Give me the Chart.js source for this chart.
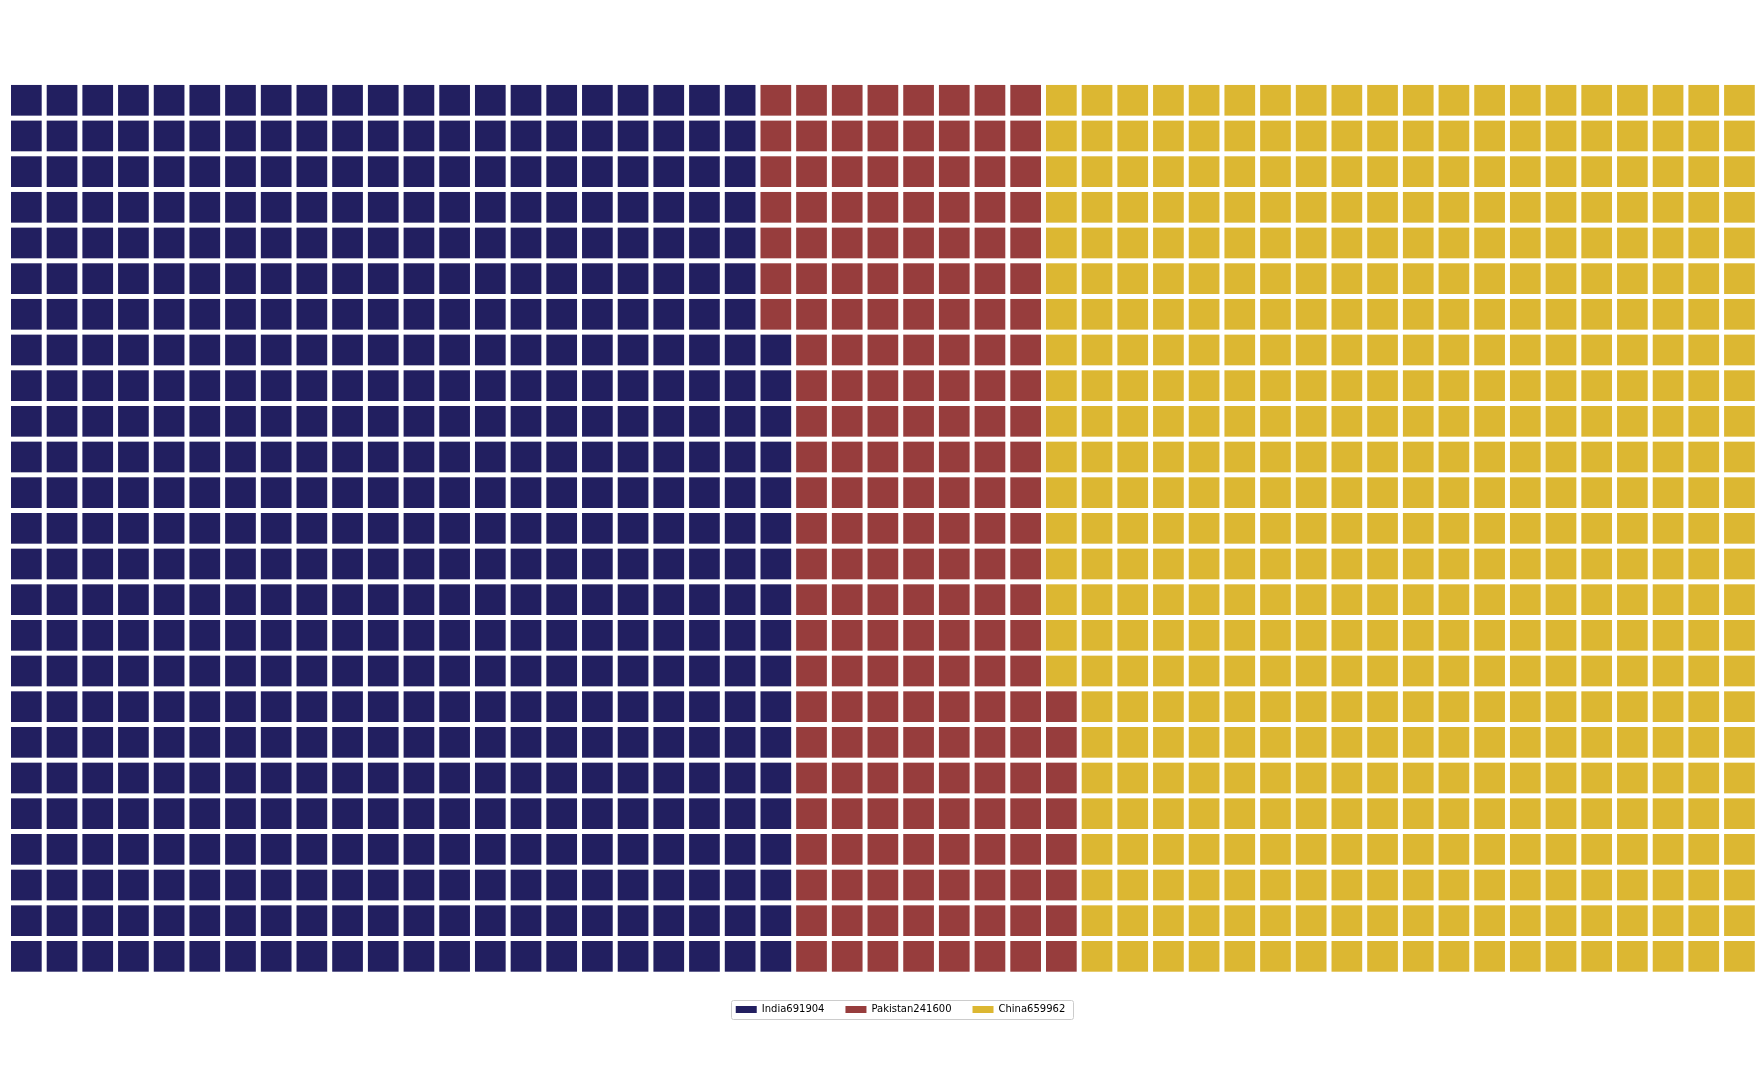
<!DOCTYPE html>
<html>
<head>
<meta charset="utf-8">
<title>Waffle</title>
<script src="https://cdn.jsdelivr.net/npm/chart.js@4.4.1/dist/chart.umd.min.js"></script>
<style>
  html, body { margin: 0; padding: 0; background: #fff; overflow: hidden; }
  #wrap { width: 1756px; height: 1073px; position: relative; }
  #myChart { display: block; }
</style>
</head>
<body>
<div id="wrap"><canvas id="myChart"></canvas></div>
<script>
// data
const categories = ['India', 'Pakistan', 'China'];
const values = [691904, 241600, 659962];
const blocks = [543, 190, 517];   // squares per category (counted)
const colors = ['#221f60', '#973d3d', '#dcb732'];
const nRows = 25;
const nCols = 50;

// fill the grid column by column, bottom to top
function buildCells() {
  const out = categories.map(() => []);
  let cat = 0, used = 0;
  for (let c = 0; c < nCols; c++) {
    for (let r = nRows - 1; r >= 0; r--) {
      while (cat < blocks.length && used >= blocks[cat]) { cat++; used = 0; }
      if (cat >= blocks.length) break;
      out[cat].push({ x: c, y: r });
      used++;
    }
  }
  // order row by row so chart.js doesn't treat x as sorted and skip
  // the squares that sit outside the x range (first/last column)
  out.forEach(list => list.sort((a, b) => a.y - b.y || a.x - b.x));
  return out;
}
const cells = buildCells();

// frame round the legend, like matplotlib's
const legendFrame = {
  id: 'legendFrame',
  afterDraw(chart) {
    const lg = chart.legend;
    if (!lg || !lg.legendHitBoxes || !lg.legendHitBoxes.length) return;
    const hb = lg.legendHitBoxes;
    const first = hb[0], last = hb[hb.length - 1];
    const cy = first.top + first.height / 2;
    const x0 = first.left - 4.5, x1 = last.left + last.width + 7.5;
    const y0 = cy - 9.5, y1 = cy + 9.5;
    const ctx = chart.ctx;
    ctx.save();
    ctx.strokeStyle = '#cccccc';
    ctx.lineWidth = 1;
    ctx.beginPath();
    ctx.roundRect(Math.round(x0) + 0.5, Math.round(y0) + 0.5, Math.round(x1 - x0), Math.round(y1 - y0), 2);
    ctx.stroke();
    ctx.restore();
  }
};

const ctx = document.getElementById('myChart').getContext('2d');
const myChart = new Chart(ctx, {
  type: 'scatter',
  data: {
    datasets: categories.map((name, i) => ({
      label: name + values[i],
      data: cells[i],
      backgroundColor: colors[i],
      borderColor: colors[i],
      borderWidth: 0,
      pointStyle: 'rect',
      pointRadius: 21.7,
      pointHoverRadius: 21.7,
      clip: false
    }))
  },
  options: {
    responsive: true,
    maintainAspectRatio: false,
    animation: false,
    events: [],
    layout: { autoPadding: false, padding: { left: 45, right: 0, top: 82, bottom: 48.5 } },
    scales: {
      x: { type: 'linear', display: false, min: 0.5226, max: 48.464 },
      y: { type: 'linear', display: false, reverse: true, min: -0.513, max: 24.761 }
    },
    plugins: {
      tooltip: { enabled: false },
      legend: {
        position: 'bottom',
        labels: {
          boxWidth: 21,
          boxHeight: 7,
          padding: 21,
          color: '#000000',
          font: { family: 'DejaVu Sans', size: 10 }
        }
      }
    }
  },
  plugins: [legendFrame]
});
</script>
</body>
</html>
